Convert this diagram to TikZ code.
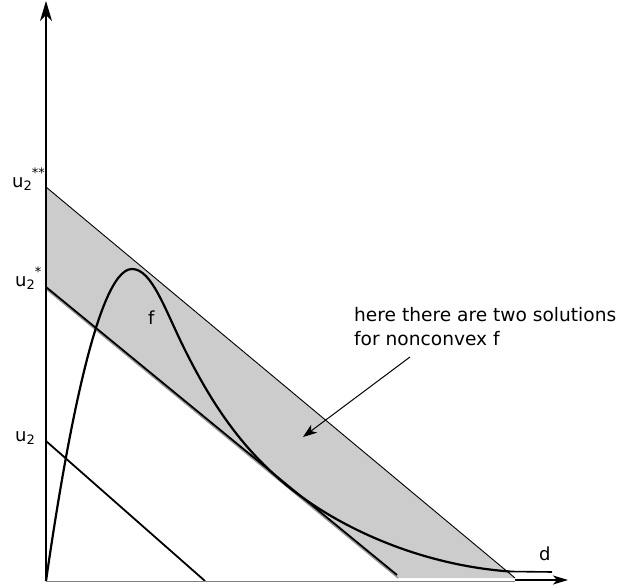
\documentclass[tikz,border=0pt]{standalone}
\usepackage{fontspec}
\setmainfont{DejaVu Sans}
\usetikzlibrary{arrows.meta}
\definecolor{bandgray}{RGB}{204,204,204}
\newcommand{\ulab}[2]{u\raisebox{-3pt}{\fontsize{13}{13}\selectfont #1}\raisebox{10pt}{\fontsize{13}{13}\selectfont #2}}
\tikzset{
  lbl/.style={inner sep=0pt, font=\fontsize{18}{22}\selectfont},
  thickline/.style={line width=1.8pt},
  thinline/.style={line width=0.9pt},
}
\begin{document}
\begin{tikzpicture}[x=1pt,y=-1pt]
\useasboundingbox[fill=white] (0,0) rectangle (619,588);
% key points
\coordinate (O) at (46,581);
\coordinate (Ytip) at (46,1);
\coordinate (A) at (46,187);
\coordinate (B) at (515,578);
\coordinate (C) at (46,287);
\coordinate (D) at (398,578);
\coordinate (Dend) at (397,575);
\coordinate (E) at (46,441);
\coordinate (F) at (205,581);
\coordinate (Xs) at (515,580);
\coordinate (Xtip) at (568,580);
\coordinate (Tail) at (552,572);
\coordinate (Ptip) at (303,437);
\coordinate (Peak) at (132,269);
\coordinate (Infl) at (185,350);
\coordinate (Touch) at (290,488);
\coordinate (Cend) at (510,571.5);
% band
\fill[bandgray] (A) -- (B) -- (D) -- (C) -- cycle;
\draw[gray, line width=0.8pt] (A) -- (C);
\draw[gray!80, line width=1.4pt] (46,289) -- (D);
\draw[thickline] (C) -- (Dend);
\draw[thinline] (A) -- (B);
% u2 line
\draw[thickline] (E) -- (F);
% axes
\draw[gray, line width=0.8pt] (O) -- (B |- O);
\draw[line width=1.2pt, -{Stealth[length=20pt,width=12pt,inset=6pt]}] (O) -- (Ytip);
\draw[line width=1.4pt, -{Stealth[length=15pt,width=9pt,inset=4pt]}] (Xs) -- (Xtip);
% curve f
\draw[line width=2.2pt, line join=round]
  (O) .. controls (62,470) and (95,269) .. (Peak)
      .. controls (152,269) and (165,310) .. (Infl)
      .. controls (210,400) and (240,448) .. (Touch)
      .. controls (340,528) and (420,565) .. (Cend);
\draw[line width=1.6pt] (Cend) -- (Tail);
% labels
\node[lbl, anchor=base west] (lu2ss) at (12,188) {\ulab{2}{**}};
\node[lbl, anchor=base west] (lu2s) at (15,287) {\ulab{2}{*}};
\node[lbl, anchor=base west] (lu2) at (15,441) {\ulab{2}{}};
\node[lbl, anchor=base west] (lf) at (148,324) {f};
\node[lbl, anchor=base west] (ld) at (539,560) {d};
\node[lbl, anchor=base west, font=\fontsize{18.6}{22}\selectfont] (t1) at (354,322) {here there are two solutions};
\node[lbl, anchor=base west, font=\fontsize{18.6}{22}\selectfont] (t2) at (354,345) {for nonconvex f};
\coordinate (Pstart) at (410,357);
\draw[line width=1pt, -{Stealth[length=14pt,width=10pt,inset=4pt]}] (Pstart) -- (Ptip);
\end{tikzpicture}
\end{document}
